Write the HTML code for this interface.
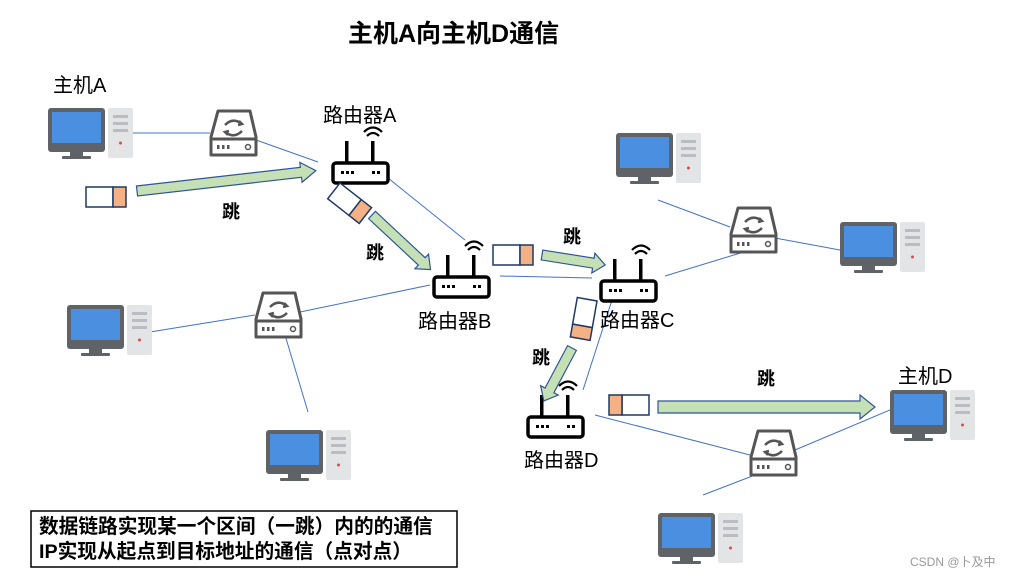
<!DOCTYPE html>
<html><head><meta charset="utf-8"><style>
body{margin:0;background:#fff;}
svg{display:block;font-family:"Liberation Sans","Noto Sans CJK SC",sans-serif;}
</style></head><body>
<svg width="1022" height="576" viewBox="0 0 1022 576">
<defs>
<g id="pc">
 <rect x="0" y="0" width="57" height="44" rx="3" fill="#5f6368"/>
 <rect x="4" y="4" width="49" height="31" fill="#4a8fe0"/>
 <rect x="22" y="44" width="13" height="5" fill="#5f6368"/>
 <rect x="14" y="48" width="29" height="3" rx="1" fill="#5f6368"/>
 <rect x="60" y="0" width="25" height="50" rx="2" fill="#e3e4e6"/>
 <rect x="65" y="7" width="15" height="3" fill="#b9bcc0"/>
 <rect x="65" y="14" width="15" height="3" fill="#b9bcc0"/>
 <rect x="65" y="21" width="15" height="3" fill="#b9bcc0"/>
 <circle cx="72.5" cy="35" r="1.5" fill="#e04a4a"/>
</g>
<g id="sw">
 <path d="M7 0 H39 L45 26 V44 H0 V26 Z" fill="#fff" stroke="#555" stroke-width="3" stroke-linejoin="round"/>
 <line x1="0" y1="28" x2="45" y2="28" stroke="#555" stroke-width="3"/>
 <path d="M14 14 q8 -8 17 -1 M28 10 l3 3 -4 1 M31 20 q-8 8 -17 1 M17 24 l-3 -3 4 -1" fill="none" stroke="#555" stroke-width="2.5"/>
 <rect x="6" y="34" width="2.5" height="4" fill="#555"/><rect x="11" y="34" width="2.5" height="4" fill="#555"/><rect x="16" y="34" width="2.5" height="4" fill="#555"/>
 <circle cx="37" cy="36" r="2.5" fill="none" stroke="#555" stroke-width="1.5"/>
</g>
<g id="rt">
 <rect x="0" y="0" width="55" height="20" rx="3" fill="#fff" stroke="#000" stroke-width="3.5"/>
 <rect x="8" y="8" width="3" height="3"/><rect x="13" y="8" width="3" height="3"/><rect x="18" y="8" width="3" height="3"/>
 <rect x="39" y="8" width="3" height="3"/><rect x="44" y="8" width="3" height="3"/>
 <rect x="12" y="-22" width="3.5" height="22"/>
 <rect x="38" y="-22" width="3.5" height="22"/>
 <path d="M34 -27 q6 -6 12 0 M31 -31 q9 -9 18 0" fill="none" stroke="#000" stroke-width="2.2"/>
</g>
<g id="pk">
 <rect x="0" y="0" width="27" height="20" fill="#fff" stroke="#1f3864" stroke-width="1.5"/>
 <rect x="27" y="0" width="13" height="20" fill="#f4b183" stroke="#1f3864" stroke-width="1.5"/>
</g>
</defs>

<text x="348" y="42" font-size="25" font-weight="bold">主机A向主机D通信</text>

<g stroke="#4472c4" stroke-width="1" fill="none">
 <line x1="133" y1="133" x2="210" y2="133"/>
 <line x1="256" y1="140" x2="318" y2="162"/>
 <line x1="388" y1="178" x2="465" y2="240"/>
 <line x1="150" y1="332" x2="255" y2="315"/>
 <line x1="300" y1="312" x2="430" y2="285"/>
 <line x1="285" y1="335" x2="308" y2="412"/>
 <line x1="500" y1="276" x2="592" y2="278"/>
 <line x1="658" y1="200" x2="730" y2="227"/>
 <line x1="775" y1="238" x2="840" y2="250"/>
 <line x1="665" y1="276" x2="770" y2="244"/>
 <line x1="612" y1="300" x2="583" y2="390"/>
 <line x1="595" y1="415" x2="750" y2="455"/>
 <line x1="795" y1="450" x2="890" y2="410"/>
 <line x1="755" y1="475" x2="703" y2="495"/>
</g>

<use href="#pc" x="48" y="108"/>
<use href="#pc" x="616" y="133"/>
<use href="#pc" x="840" y="222"/>
<use href="#pc" x="67" y="305"/>
<use href="#pc" x="266" y="430"/>
<use href="#pc" x="890" y="390"/>
<use href="#pc" x="658" y="513"/>

<use href="#sw" x="211" y="111"/>
<use href="#sw" x="731" y="208"/>
<use href="#sw" x="256" y="293"/>
<use href="#sw" x="751" y="431"/>

<use href="#rt" x="333" y="163"/>
<use href="#rt" x="434" y="277"/>
<use href="#rt" x="601" y="281"/>
<use href="#rt" x="528" y="417"/>

<g fill="#c5e0b4" stroke="#2f5597" stroke-width="1.2">
 <polygon points="0,-5 165,-5 165,-10 180,0 165,10 165,5 0,5" transform="translate(137,191) rotate(-6.5)"/>
 <polygon points="0,-5 68,-5 68,-10 80,0 68,10 68,5 0,5" transform="translate(372,215) rotate(43)"/>
 <polygon points="0,-5 52,-5 52,-10 64,0 52,10 52,5 0,5" transform="translate(542,255) rotate(9)"/>
 <polygon points="0,-5 48,-5 48,-10 60,0 48,10 48,5 0,5" transform="translate(572,348) rotate(118)"/>
 <polygon points="0,-6 202,-6 202,-12 217,0 202,12 202,6 0,6" transform="translate(658,407)"/>
</g>

<use href="#pk" x="86" y="187"/>
<use href="#pk" transform="translate(340,183) rotate(38)"/>
<use href="#pk" x="493" y="245"/>
<use href="#pk" transform="translate(597,301) rotate(100)"/>
<use href="#pk" transform="translate(649,415) rotate(180)"/>

<g font-size="20" fill="#000">
 <text x="53" y="92">主机A</text>
 <text x="323" y="122">路由器A</text>
 <text x="418" y="328">路由器B</text>
 <text x="600" y="327">路由器C</text>
 <text x="524" y="467">路由器D</text>
 <text x="898" y="383">主机D</text>
</g>
<g font-size="18" font-weight="bold">
 <text x="222" y="218">跳</text>
 <text x="366" y="259">跳</text>
 <text x="563" y="243">跳</text>
 <text x="532" y="364">跳</text>
 <text x="757" y="385">跳</text>
</g>

<rect x="31" y="511" width="426" height="56" fill="#fff" stroke="#000" stroke-width="1.5"/>
<text x="39" y="533" font-size="19.7" font-weight="bold">数据链路实现某一个区间（一跳）内的的通信</text>
<text x="39" y="558" font-size="19.7" font-weight="bold">IP实现从起点到目标地址的通信（点对点）</text>

<text x="910" y="566" font-size="12" fill="#999">CSDN @卜及中</text>
</svg>
</body></html>
